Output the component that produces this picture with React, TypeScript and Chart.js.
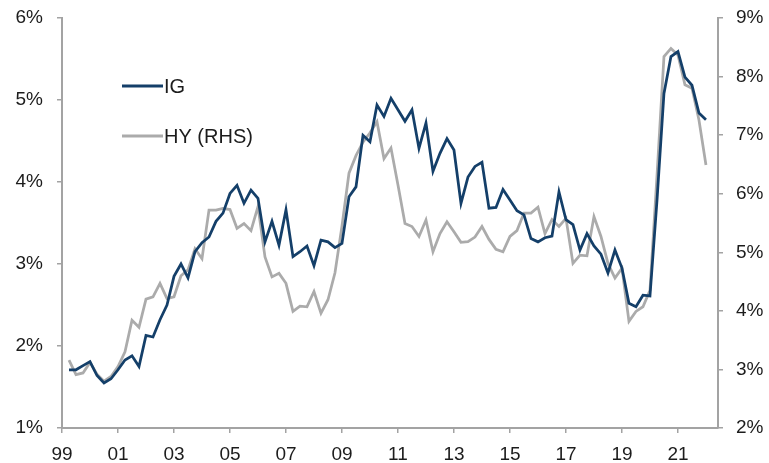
import React, { useEffect, useRef } from "react";
import { Chart, registerables } from "chart.js";

Chart.register(...registerables);

// Quarterly observations, first one at 1999 Q1 (end of quarter)
const startYear = 1999.25;
const quarterStep = 0.25;

const tickYears = [1999, 2001, 2003, 2005, 2007, 2009, 2011, 2013, 2015, 2017, 2019, 2021];

const seriesNames = ["IG", "HY (RHS)"];

// IG yield, % (left axis)
const igYields = [
  1.71, 1.71, 1.76, 1.81,
  1.64, 1.55, 1.60, 1.71,
  1.83, 1.88, 1.75, 2.13,
  2.11, 2.32, 2.50, 2.85,
  3.00, 2.83, 3.15, 3.26,
  3.33, 3.52, 3.62, 3.86,
  3.96, 3.74, 3.90, 3.80,
  3.27, 3.52, 3.23, 3.66,
  3.09, 3.15, 3.22, 2.98,
  3.29, 3.27, 3.20, 3.25,
  3.82, 3.94, 4.57, 4.49,
  4.94, 4.80, 5.02, 4.88,
  4.74, 4.88, 4.41, 4.72,
  4.13, 4.35, 4.53, 4.39,
  3.74, 4.06, 4.19, 4.24,
  3.68, 3.69, 3.91, 3.78,
  3.65, 3.60, 3.31, 3.27,
  3.32, 3.34, 3.88, 3.54,
  3.48, 3.17, 3.37, 3.22,
  3.12, 2.89, 3.17, 2.95,
  2.52, 2.48, 2.62, 2.61,
  3.77, 5.08, 5.53, 5.59,
  5.28, 5.18, 4.84, 4.76,
];

// HY yield, % (right axis)
const hyYields = [
  3.16, 2.91, 2.94, 3.12,
  2.92, 2.80, 2.88, 3.05,
  3.30, 3.84, 3.72, 4.20,
  4.24, 4.47, 4.21, 4.24,
  4.60, 4.70, 5.06, 4.89,
  5.72, 5.72, 5.75, 5.73,
  5.41, 5.49, 5.37, 5.78,
  4.92, 4.58, 4.64, 4.47,
  3.99, 4.08, 4.07, 4.33,
  3.96, 4.19, 4.65, 5.45,
  6.35, 6.65, 6.88, 7.04,
  7.23, 6.60, 6.78, 6.15,
  5.49, 5.44, 5.27, 5.55,
  5.01, 5.32, 5.52, 5.35,
  5.17, 5.18, 5.26, 5.44,
  5.22, 5.05, 5.01, 5.27,
  5.37, 5.67, 5.67, 5.77,
  5.32, 5.56, 5.44, 5.58,
  4.81, 4.95, 4.94, 5.61,
  5.27, 4.81, 4.56, 4.73,
  3.82, 3.99, 4.07, 4.35,
  6.30, 8.34, 8.48, 8.37,
  7.86, 7.80, 7.26, 6.49,
];

const IG_COLOR = "#143f69";
const HY_COLOR = "#ababab";
const AXIS_COLOR = "#a3a3a3";
const TEXT_COLOR = "#1c1c1c";
const FONT_FAMILY = "'Liberation Sans', Arial, sans-serif";

export default function App() {
  const canvasRef = useRef<HTMLCanvasElement | null>(null);

  useEffect(() => {
    const canvas = canvasRef.current;
    if (!canvas) return;

    const toPoints = (arr: number[]) =>
      arr.map((v, i) => ({ x: startYear + i * quarterStep, y: v }));

    const tickFont = { family: FONT_FAMILY, size: 19 };

    const legendPlugin = {
      id: "insideLegend",
      afterDraw(chart: any) {
        const c = chart.ctx as CanvasRenderingContext2D;
        c.save();
        chart.data.datasets.forEach((ds: any, i: number) => {
          const y = 86 + i * 50;
          c.strokeStyle = ds.borderColor;
          c.lineWidth = 3;
          c.beginPath();
          c.moveTo(122, y);
          c.lineTo(163, y);
          c.stroke();
          c.fillStyle = TEXT_COLOR;
          c.font = `20px ${FONT_FAMILY}`;
          c.textBaseline = "middle";
          c.textAlign = "left";
          c.fillText(ds.label, 164, y + 1);
        });
        c.restore();
      },
    };

    const axisGrid = {
      display: true,
      drawOnChartArea: false,
      drawTicks: true,
      tickLength: 5,
      color: AXIS_COLOR,
      lineWidth: 1.5,
    };
    const axisBorder = { display: true, color: AXIS_COLOR, width: 2 };

    const fitVertical = (w: number) => (s: any) => {
      s.width = w;
      s.paddingTop = 0;
      s.paddingBottom = 0;
    };

    const chart = new Chart(canvas, {
      type: "line",
      data: {
        datasets: [
          {
            label: seriesNames[0],
            data: toPoints(igYields),
            yAxisID: "y",
            borderColor: IG_COLOR,
            borderWidth: 2.75,
            pointRadius: 0,
            tension: 0,
          },
          {
            label: seriesNames[1],
            data: toPoints(hyYields),
            yAxisID: "y1",
            borderColor: HY_COLOR,
            borderWidth: 2.75,
            pointRadius: 0,
            tension: 0,
          },
        ],
      },
      options: {
        animation: false,
        responsive: false,
        devicePixelRatio: 1,
        layout: { padding: { top: 18, left: 0, right: 0, bottom: 0 } },
        plugins: {
          legend: { display: false },
          tooltip: { enabled: false },
        },
        scales: {
          x: {
            type: "linear",
            min: 1999,
            max: 2022.43,
            afterBuildTicks: (s: any) => {
              s.ticks = tickYears.map((v) => ({ value: v }));
            },
            afterFit: (s: any) => {
              s.height = 35;
              s.paddingLeft = 0;
              s.paddingRight = 0;
            },
            ticks: {
              callback: (v: any) => String(Number(v) % 100).padStart(2, "0"),
              font: tickFont,
              color: TEXT_COLOR,
              padding: 10,
              maxRotation: 0,
              autoSkip: false,
            },
            grid: axisGrid,
            border: axisBorder,
          },
          y: {
            type: "linear",
            position: "left",
            min: 1,
            max: 6,
            afterFit: fitVertical(62),
            ticks: {
              stepSize: 1,
              callback: (v: any) => `${v}%`,
              font: tickFont,
              color: TEXT_COLOR,
              padding: 14,
            },
            grid: axisGrid,
            border: axisBorder,
          },
          y1: {
            type: "linear",
            position: "right",
            min: 2,
            max: 9,
            afterFit: fitVertical(51),
            ticks: {
              stepSize: 1,
              callback: (v: any) => `${v}%`,
              font: tickFont,
              color: TEXT_COLOR,
              padding: 13,
            },
            grid: axisGrid,
            border: axisBorder,
          },
        },
      },
      plugins: [legendPlugin],
    });

    return () => chart.destroy();
  }, []);

  return (
    <div style={{ position: "fixed", left: 0, top: 0, width: 769, height: 463, background: "#fff" }}>
      <canvas ref={canvasRef} width={769} height={463} />
    </div>
  );
}
